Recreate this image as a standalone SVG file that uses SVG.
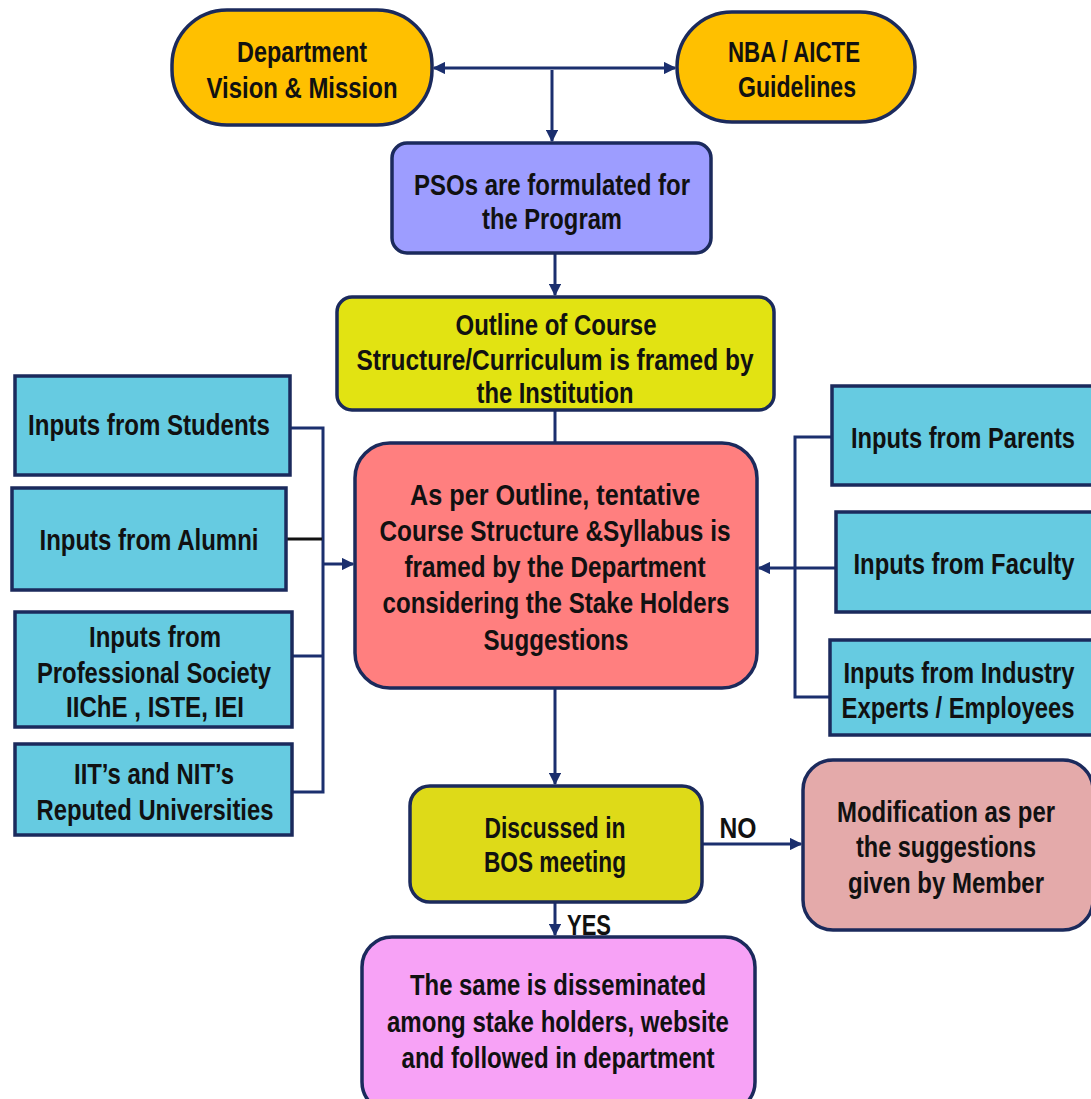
<svg xmlns="http://www.w3.org/2000/svg" width="1091" height="1099" viewBox="0 0 1091 1099">
  <style>
    .box { stroke: #1b2a5c; stroke-width: 3.5; }
    .lbl { font-family: "Liberation Sans Narrow", "Liberation Sans", Arial, sans-serif; font-weight: bold; font-size: 29px; fill: #111; text-anchor: middle; }
    .wire { fill: none; stroke: #1b2f6e; stroke-width: 3; }
    .pill { fill: #FFC000; }
    .pso { fill: #9D9DFF; }
    .lime { fill: #E2E312; }
    .core { fill: #FF7F7F; }
    .input { fill: #66CBE1; }
    .bos { fill: #DEDA18; }
    .mod { fill: #E4AAAA; }
    .out { fill: #F7A2F6; }
  </style>
  <defs>
    <marker id="head" viewBox="0 0 10 10" refX="9" refY="5" markerWidth="4.2" markerHeight="4.2" orient="auto-start-reverse" markerUnits="strokeWidth">
      <path d="M0,0 L10,5 L0,10 z" fill="#1b2f6e"/>
    </marker>
  </defs>

  <rect width="1091" height="1099" fill="#ffffff"/>

  <!-- connectors -->
  <g id="connectors">
    <line class="wire" x1="434" y1="68" x2="675" y2="68" marker-start="url(#head)" marker-end="url(#head)"/>
    <line class="wire" x1="552" y1="70" x2="552" y2="141" marker-end="url(#head)"/>
    <line class="wire" x1="555" y1="253" x2="555" y2="295" marker-end="url(#head)"/>
    <line class="wire" x1="555" y1="410" x2="555" y2="443"/>
    <!-- left stakeholder bus -->
    <polyline class="wire" points="290,428 323,428 323,792 292,792"/>
    <line class="wire" x1="292" y1="656" x2="323" y2="656"/>
    <line x1="286" y1="539" x2="322" y2="539" stroke="#111" stroke-width="3"/>
    <line class="wire" x1="323" y1="564" x2="353" y2="564" marker-end="url(#head)"/>
    <!-- right stakeholder bus -->
    <polyline class="wire" points="832,437 795,437 795,697 830,697"/>
    <line class="wire" x1="836" y1="568" x2="759" y2="568" marker-end="url(#head)"/>
    <!-- decision flow -->
    <line class="wire" x1="555" y1="688" x2="555" y2="784" marker-end="url(#head)"/>
    <line class="wire" x1="702" y1="844" x2="801" y2="844" marker-end="url(#head)"/>
    <line class="wire" x1="555" y1="902" x2="555" y2="935" marker-end="url(#head)"/>
    <text class="lbl" x="738" y="838" textLength="37" lengthAdjust="spacingAndGlyphs">NO</text>
    <text class="lbl" x="589" y="935" textLength="44" lengthAdjust="spacingAndGlyphs">YES</text>
  </g>

  <g id="vision">
    <rect class="box pill" x="172" y="10" width="260" height="115" rx="55"/>
    <text class="lbl" x="302" y="62" textLength="130" lengthAdjust="spacingAndGlyphs">Department</text>
    <text class="lbl" x="302" y="98" textLength="191" lengthAdjust="spacingAndGlyphs">Vision &amp; Mission</text>
  </g>

  <g id="guidelines">
    <rect class="box pill" x="677" y="12" width="238" height="110" rx="55"/>
    <text class="lbl" x="794" y="62" textLength="132" lengthAdjust="spacingAndGlyphs">NBA / AICTE</text>
    <text class="lbl" x="797" y="97" textLength="118" lengthAdjust="spacingAndGlyphs">Guidelines</text>
  </g>

  <g id="pso">
    <rect class="box pso" x="392" y="143" width="319" height="110" rx="15"/>
    <text class="lbl" x="552" y="195" textLength="276" lengthAdjust="spacingAndGlyphs">PSOs are formulated for</text>
    <text class="lbl" x="552" y="229" textLength="140" lengthAdjust="spacingAndGlyphs">the Program</text>
  </g>

  <g id="outline">
    <rect class="box lime" x="337" y="297" width="437" height="113" rx="15"/>
    <text class="lbl" x="556" y="335" textLength="201" lengthAdjust="spacingAndGlyphs">Outline of Course</text>
    <text class="lbl" x="555" y="370" textLength="397" lengthAdjust="spacingAndGlyphs">Structure/Curriculum is framed by</text>
    <text class="lbl" x="555" y="403" textLength="157" lengthAdjust="spacingAndGlyphs">the Institution</text>
  </g>

  <g id="syllabus">
    <rect class="box core" x="355" y="443" width="402" height="245" rx="35"/>
    <text class="lbl" x="555" y="505" textLength="290" lengthAdjust="spacingAndGlyphs">As per Outline, tentative</text>
    <text class="lbl" x="555" y="541" textLength="351" lengthAdjust="spacingAndGlyphs">Course Structure &amp;Syllabus is</text>
    <text class="lbl" x="555" y="577" textLength="301" lengthAdjust="spacingAndGlyphs">framed by the Department</text>
    <text class="lbl" x="556" y="613" textLength="347" lengthAdjust="spacingAndGlyphs">considering the Stake Holders</text>
    <text class="lbl" x="556" y="650" textLength="145" lengthAdjust="spacingAndGlyphs">Suggestions</text>
  </g>

  <g id="students">
    <rect class="box input" x="15" y="376" width="275" height="99"/>
    <text class="lbl" x="149" y="435" textLength="242" lengthAdjust="spacingAndGlyphs">Inputs from Students</text>
  </g>

  <g id="alumni">
    <rect class="box input" x="12" y="488" width="274" height="102"/>
    <text class="lbl" x="149" y="550" textLength="219" lengthAdjust="spacingAndGlyphs">Inputs from Alumni</text>
  </g>

  <g id="society">
    <rect class="box input" x="15" y="612" width="277" height="115"/>
    <text class="lbl" x="155" y="647" textLength="132" lengthAdjust="spacingAndGlyphs">Inputs from</text>
    <text class="lbl" x="154" y="683" textLength="234" lengthAdjust="spacingAndGlyphs">Professional Society</text>
    <text class="lbl" x="155" y="717" textLength="178" lengthAdjust="spacingAndGlyphs">IIChE , ISTE, IEI</text>
  </g>

  <g id="universities">
    <rect class="box input" x="15" y="744" width="277" height="91"/>
    <text class="lbl" x="154" y="784" textLength="160" lengthAdjust="spacingAndGlyphs">IIT’s and NIT’s</text>
    <text class="lbl" x="155" y="820" textLength="237" lengthAdjust="spacingAndGlyphs">Reputed Universities</text>
  </g>

  <g id="parents">
    <rect class="box input" x="832" y="386" width="262" height="99"/>
    <text class="lbl" x="963" y="448" textLength="224" lengthAdjust="spacingAndGlyphs">Inputs from Parents</text>
  </g>

  <g id="faculty">
    <rect class="box input" x="836" y="512" width="258" height="100"/>
    <text class="lbl" x="964" y="574" textLength="221" lengthAdjust="spacingAndGlyphs">Inputs from Faculty</text>
  </g>

  <g id="industry">
    <rect class="box input" x="830" y="640" width="264" height="95"/>
    <text class="lbl" x="959" y="683" textLength="231" lengthAdjust="spacingAndGlyphs">Inputs from Industry</text>
    <text class="lbl" x="958" y="718" textLength="233" lengthAdjust="spacingAndGlyphs">Experts / Employees</text>
  </g>

  <g id="bos">
    <rect class="box bos" x="410" y="786" width="292" height="116" rx="20"/>
    <text class="lbl" x="555" y="838" textLength="141" lengthAdjust="spacingAndGlyphs">Discussed in</text>
    <text class="lbl" x="555" y="872" textLength="142" lengthAdjust="spacingAndGlyphs">BOS meeting</text>
  </g>

  <g id="modification">
    <rect class="box mod" x="803" y="760" width="290" height="170" rx="30"/>
    <text class="lbl" x="946" y="822" textLength="218" lengthAdjust="spacingAndGlyphs">Modification as per</text>
    <text class="lbl" x="946" y="857" textLength="180" lengthAdjust="spacingAndGlyphs">the suggestions</text>
    <text class="lbl" x="946" y="893" textLength="196" lengthAdjust="spacingAndGlyphs">given by Member</text>
  </g>

  <g id="dissemination">
    <rect class="box out" x="362" y="937" width="393" height="175" rx="30"/>
    <text class="lbl" x="558" y="995" textLength="296" lengthAdjust="spacingAndGlyphs">The same is disseminated</text>
    <text class="lbl" x="558" y="1032" textLength="342" lengthAdjust="spacingAndGlyphs">among stake holders, website</text>
    <text class="lbl" x="558" y="1068" textLength="313" lengthAdjust="spacingAndGlyphs">and followed in department</text>
  </g>
</svg>
